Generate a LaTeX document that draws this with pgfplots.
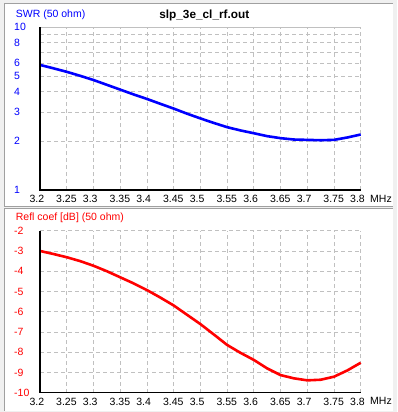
\documentclass[border=0pt]{standalone}
\usepackage{pgfplots}
\pgfplotsset{compat=1.18}
\usepackage{fontspec}
\setmainfont{Liberation Sans}
\definecolor{bgwin}{HTML}{F0F0F0}
\definecolor{gridc}{HTML}{C0C0C0}
\definecolor{edgec}{HTML}{A0A0A0}
\definecolor{swrblue}{HTML}{0000FF}
\definecolor{rlred}{HTML}{FF0000}
\newcommand{\tf}{\fontsize{10.5}{12}\selectfont}
\begin{document}
\begin{tikzpicture}
\path[use as bounding box, fill=bgwin] (0pt,0pt) rectangle (397pt,-412pt);
% panels
\fill[white] (4pt,-4pt) rectangle (393pt,-206pt);
\draw[edgec, line width=1pt] (4pt,-206pt) -- (4pt,-4pt) -- (393pt,-4pt);
\draw[edgec, line width=1pt] (4pt,-206pt) -- (393pt,-206pt);
\fill[white] (4pt,-208.5pt) rectangle (393pt,-410.5pt);
\draw[edgec, line width=1pt] (4pt,-410.5pt) -- (4pt,-208.5pt) -- (393pt,-208.5pt);

\pgfplotsset{
  common/.style={
    scale only axis, width=320.7pt,
    xmin=3.2, xmax=3.8,
    xtick={3.2,3.25,3.3,3.35,3.4,3.45,3.5,3.55,3.6,3.65,3.7,3.75,3.8},
    xticklabels={3.2,3.25,3.3,3.35,3.4,3.45,3.5,3.55,3.6,3.65,3.7,3.75,3.8},
    xticklabel style={anchor=north west, inner sep=0pt, xshift=-10.7pt, yshift=-5pt, font=\tf, text=black},
    yticklabel style={anchor=west, inner sep=0pt, xshift=-26pt, font=\tf},
    major tick length=0pt, minor tick length=0pt,
    tick style={draw=none},
    grid=major,
    grid style={gridc, line width=0.8pt, dash pattern=on 4pt off 3pt},
    axis line style={draw=none},
    clip=false,
  }
}

\begin{axis}[common,
  at={(40pt,-190pt)}, anchor=south west, height=163pt,
  ymode=log, ymin=1, ymax=10,
  ytick={1,2,3,4,5,6,8,10},
  yticklabels={1,2,3,4,5,6,8,10},
  extra y ticks={7,9}, extra y tick labels={},
  extra y tick style={grid=major},
  yticklabel style={text=swrblue},
]
\addplot[swrblue, line width=2.6pt, line join=round] coordinates {
(3.2,5.85) (3.225,5.58) (3.25,5.31) (3.275,5.02) (3.3,4.73) (3.325,4.42)
(3.35,4.13) (3.375,3.86) (3.4,3.62) (3.425,3.38) (3.45,3.16) (3.475,2.94)
(3.5,2.75) (3.525,2.58) (3.55,2.43) (3.575,2.32) (3.6,2.23) (3.625,2.14)
(3.65,2.08) (3.675,2.04) (3.7,2.03) (3.725,2.02) (3.75,2.03) (3.775,2.10) (3.8,2.19)
};
\draw[gridc, line width=1pt] (rel axis cs:0,1) -- (rel axis cs:1,1);
\draw[black, line width=1.3pt] (rel axis cs:0,1) -- (rel axis cs:0,0) -- (rel axis cs:1,0);
\end{axis}

\begin{axis}[common,
  at={(40pt,-392.7pt)}, anchor=south west, height=162pt,
  ymin=-10, ymax=-2,
  ytick={-10,-9,-8,-7,-6,-5,-4,-3,-2},
  yticklabels={-10,-9,-8,-7,-6,-5,-4,-3,-2},
  yticklabel style={text=rlred},
]
\addplot[rlred, line width=2.6pt, line join=round] coordinates {
(3.2,-3.0) (3.225,-3.15) (3.25,-3.31) (3.275,-3.5) (3.3,-3.73) (3.325,-4.0)
(3.35,-4.3) (3.375,-4.6) (3.4,-4.93) (3.425,-5.3) (3.45,-5.69) (3.475,-6.15)
(3.5,-6.61) (3.525,-7.12) (3.55,-7.64) (3.575,-8.03) (3.6,-8.38) (3.625,-8.8)
(3.65,-9.13) (3.675,-9.29) (3.7,-9.39) (3.725,-9.36) (3.75,-9.21) (3.775,-8.9) (3.8,-8.52)
};
\draw[black, line width=1.3pt] (rel axis cs:0,1) -- (rel axis cs:0,0) -- (rel axis cs:1,0);
\end{axis}

\node[anchor=west, inner sep=0pt, text=swrblue, font=\tf] at (15.7pt,-15pt) {SWR (50 ohm)};
\node[inner sep=0pt, font=\fontsize{11.8}{13}\selectfont\bfseries] at (204.3pt,-15pt) {slp\_3e\_cl\_rf.out};
\node[anchor=north west, inner sep=0pt, font=\tf] at (370pt,-195pt) {MHz};
\node[anchor=west, inner sep=0pt, text=rlred, font=\tf] at (15.7pt,-217.5pt) {Refl coef [dB] (50 ohm)};
\node[anchor=north west, inner sep=0pt, font=\tf] at (370pt,-397.5pt) {MHz};
\end{tikzpicture}
\end{document}
